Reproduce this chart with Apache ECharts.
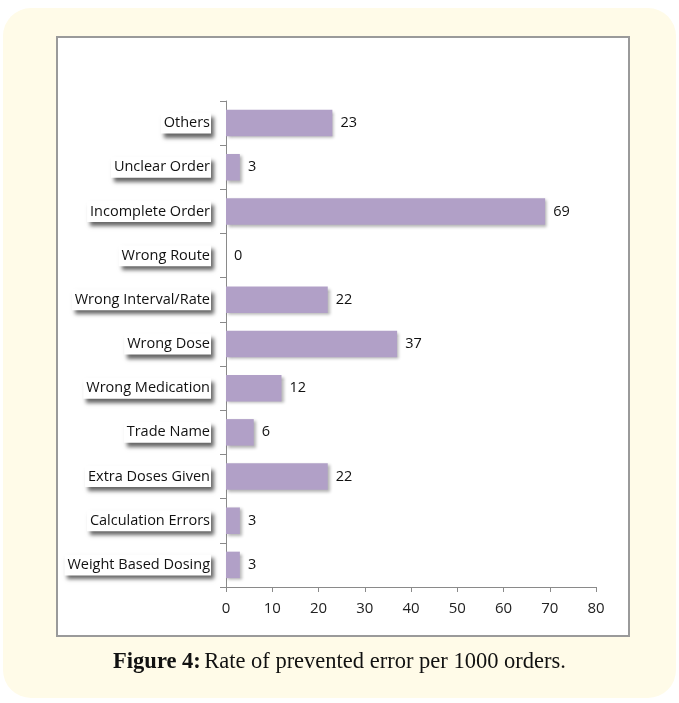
<!DOCTYPE html>
<html><head><meta charset="utf-8">
<script src="https://cdn.jsdelivr.net/npm/echarts@6/dist/echarts.min.js"></script>
<style>html,body{margin:0;padding:0;background:#fff}#c{width:679px;height:703px}</style>
</head><body><div id="c"></div>
<script>
const categories = ["Weight Based Dosing","Calculation Errors","Extra Doses Given","Trade Name","Wrong Medication","Wrong Dose","Wrong Interval/Rate","Wrong Route","Incomplete Order","Unclear Order","Others"];
const values = [3,3,22,6,12,37,22,0,69,3,23];
const xTicks = [0,10,20,30,40,50,60,70,80];
const caption = "Rate of prevented error per 1000 orders.";

const chart = echarts.init(document.getElementById('c'));
chart.setOption({
  animation:false,
  graphic:[
    {type:'rect',z:-10,shape:{x:3,y:8,width:673,height:690,r:28},style:{fill:'#fffbe8'}},
    {type:'rect',z:-9,shape:{x:57,y:37,width:572,height:599},style:{fill:'#fff',stroke:'#9a9a9a',lineWidth:2}},
    {type:'text',z:5,left:'center',top:651,style:{rich:{b:{fontFamily:'Liberation Serif',fontWeight:'bold',fontSize:22.5,fill:'#111'},n:{fontFamily:'Liberation Serif',fontSize:22.5,fill:'#111'}},text:'{b|Figure 4:} {n|'+caption+'}'}}
  ],
  grid:{left:226,right:83,top:101,bottom:116},
  xAxis:{type:'value',min:0,max:80,interval:10,
    axisLine:{show:true,lineStyle:{color:'#8a8a8a'}},
    axisTick:{show:true,length:5,lineStyle:{color:'#8a8a8a'}},
    splitLine:{show:false},
    axisLabel:{margin:14,fontFamily:'Open Sans',fontSize:15,color:'#222',formatter:v=>xTicks.includes(v)?String(v):''}},
  yAxis:{type:'category',data:categories,
    axisLine:{show:true,lineStyle:{color:'#8a8a8a'}},
    axisTick:{show:true,length:6,lineStyle:{color:'#8a8a8a'}},
    axisLabel:{margin:15,fontFamily:'Open Sans',fontSize:14.5,color:'#111',backgroundColor:'#fff',padding:[3,1,3,3],
      shadowColor:'rgba(0,0,0,0.6)',shadowBlur:4,shadowOffsetX:3,shadowOffsetY:4}},
  series:[{type:'bar',data:values,barCategoryGap:'40%',
    itemStyle:{color:'#b1a0c7',shadowColor:'rgba(0,0,0,0.3)',shadowBlur:3,shadowOffsetX:2,shadowOffsetY:2},
    label:{show:true,position:'right',distance:8,fontFamily:'Open Sans',fontSize:14.5,color:'#111'}}]
});
</script></body></html>
